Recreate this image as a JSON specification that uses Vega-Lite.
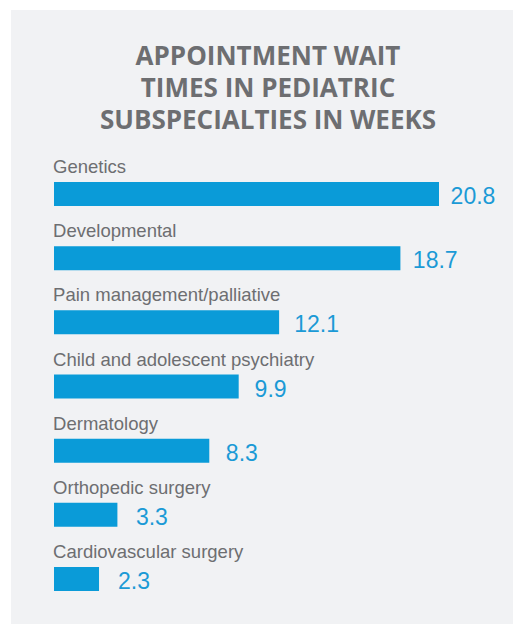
{
  "$schema": "https://vega.github.io/schema/vega-lite/v6.json",
  "width": 502,
  "height": 614,
  "autosize": {"type": "none"},
  "padding": {"left": 11, "top": 10, "right": 1, "bottom": 0},
  "background": "#ffffff",
  "config": {"view": {"stroke": null, "fill": "#f1f2f4"}},
  "title": {
    "text": ["APPOINTMENT WAIT", "TIMES IN PEDIATRIC", "SUBSPECIALTIES IN WEEKS"],
    "orient": "top",
    "anchor": "middle",
    "frame": "group",
    "baseline": "top",
    "offset": -124,
    "dx": 6,
    "font": "Open Sans",
    "fontSize": 26,
    "fontWeight": "bold",
    "lineHeight": 32,
    "color": "#6d6e71"
  },
  "data": {
    "values": [
      {"name": "Genetics", "value": 20.8},
      {"name": "Developmental", "value": 18.7},
      {"name": "Pain management/palliative", "value": 12.1},
      {"name": "Child and adolescent psychiatry", "value": 9.9},
      {"name": "Dermatology", "value": 8.3},
      {"name": "Orthopedic surgery", "value": 3.3},
      {"name": "Cardiovascular surgery", "value": 2.3}
    ]
  },
  "encoding": {
    "y": {
      "field": "name",
      "type": "nominal",
      "sort": null,
      "axis": null,
      "scale": {"range": [152, 601], "paddingInner": 0, "paddingOuter": 0}
    }
  },
  "layer": [
    {
      "mark": {"type": "bar", "height": 24, "color": "#0a9bd8"},
      "encoding": {
        "x": {
          "field": "value",
          "type": "quantitative",
          "axis": null,
          "scale": {"domain": [-0.15, 20.8], "range": [43, 428], "zero": false, "nice": false}
        },
        "x2": {"datum": -0.15}
      }
    },
    {
      "mark": {
        "type": "text",
        "align": "left",
        "baseline": "alphabetic",
        "dy": -21,
        "font": "Liberation Sans",
        "fontSize": 18.5,
        "color": "#6d6e71"
      },
      "encoding": {
        "x": {
          "datum": -0.2,
          "type": "quantitative",
          "axis": null,
          "scale": {"domain": [-0.15, 20.8], "range": [43, 428], "zero": false, "nice": false}
        },
        "text": {"field": "name"}
      }
    },
    {
      "mark": {
        "type": "text",
        "align": "left",
        "baseline": "alphabetic",
        "dy": 10,
        "font": "Liberation Sans",
        "fontSize": 23,
        "color": "#1b9ad6"
      },
      "encoding": {
        "x": {
          "field": "value",
          "type": "quantitative",
          "axis": null,
          "scale": {"domain": [0, 20.8], "range": [65.6, 439.6], "zero": false, "nice": false}
        },
        "text": {"field": "value", "type": "quantitative", "format": ".1f"}
      }
    }
  ],
  "resolve": {"scale": {"x": "independent"}}
}
